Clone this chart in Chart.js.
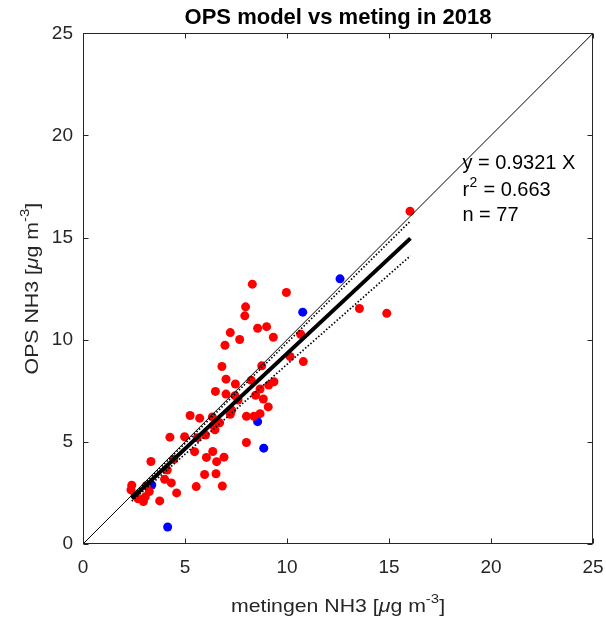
<!DOCTYPE html>
<html>
<head>
<meta charset="utf-8">
<script src="https://cdn.jsdelivr.net/npm/chart.js@4.4.1/dist/chart.umd.min.js"></script>
<style>
  html, body { margin: 0; padding: 0; background: #ffffff; }
  canvas { display: block; }
</style>
</head>
<body>
<canvas id="opsChart" width="606" height="617"></canvas>
<script>
const redX = [8.30, 7.97, 7.93, 8.56, 9.00, 7.22, 7.68, 9.33, 6.96, 6.81,
              8.76, 7.01, 8.25, 7.47, 6.49, 7.01, 7.45, 9.10, 9.36, 8.46,
              8.68, 8.84, 9.08, 7.29, 7.22, 5.25, 5.72, 6.34, 8.01, 8.38,
              8.68, 6.70, 6.41, 6.01, 6.47, 4.26, 4.98, 8.01, 5.47, 6.36,
              6.05, 6.55, 6.91, 3.33, 4.13, 4.00, 4.33, 5.96, 6.52, 5.55,
              6.83, 2.39, 2.35, 3.25, 2.70, 2.96, 3.05, 3.76, 4.59, 9.97,
              13.55, 14.89, 10.67, 10.15, 10.80, 16.03, 2.55, 3.10, 4.45, 5.60,
              7.60];
const redY = [12.72, 11.61, 11.17, 10.56, 10.64, 10.35, 10.01, 10.12, 9.73, 8.69,
              8.72, 8.07, 8.01, 7.83, 7.47, 7.34, 7.26, 7.78, 7.94, 7.28,
              7.59, 7.10, 6.71, 6.55, 6.35, 6.29, 6.16, 6.22, 6.25, 6.25,
              6.38, 5.93, 5.80, 5.33, 5.59, 5.23, 5.25, 4.97, 4.52, 4.53,
              4.24, 4.03, 4.25, 4.04, 3.62, 3.17, 2.99, 3.40, 3.44, 2.81,
              2.84, 2.88, 2.65, 2.57, 2.21, 2.08, 2.31, 2.11, 2.50, 12.31,
              11.53, 11.29, 10.27, 9.18, 8.93, 16.29, 2.40, 2.85, 4.15, 5.20,
              7.05];
const blueX = [8.56, 8.86, 3.37, 4.15, 12.60, 10.77];
const blueY = [5.99, 4.69, 2.89, 0.83, 12.98, 11.35];

const axisRange = [0, 25];
const tickValues = [0, 5, 10, 15, 20, 25];

const fitSlope = 0.9321;
const fitR2 = 0.663;
const fitN = 77;
const fitXRange = [2.39, 16.05];
const ciHalfWidth = 0.053;

const xLabelParts = [['metingen NH3 [', ''], ['μ', 'i'], ['g m', ''], ['-3', 's'], [']', '']];
const yLabelParts = [['OPS NH3 [', ''], ['μ', 'i'], ['g m', ''], ['-3', 's'], [']', '']];

const toPoints = (xs, ys) => xs.map((v, i) => ({ x: v, y: ys[i] }));
const slopeLine = (k, xs) => xs.map(v => ({ x: v, y: k * v }));

const axisColor = '#262626';
const fontFamily = '"Liberation Sans", Arial, Helvetica, sans-serif';

// text with italic / superscript pieces, centred on (cx, baseline cy)
function drawRichLabel(ctx, parts, size, cx, cy, rotated, stretch) {
    const fontFor = kind => (kind === 'i' ? 'italic ' : '') +
        (kind === 's' ? Math.round(size * 0.72) : size) + 'px ' + fontFamily;
    let total = 0;
    parts.forEach(([t, k]) => { ctx.font = fontFor(k); total += ctx.measureText(t).width; });
    ctx.save();
    ctx.translate(cx, cy);
    if (rotated) ctx.rotate(-Math.PI / 2);
    ctx.scale(stretch, 1);
    ctx.fillStyle = axisColor;
    ctx.textAlign = 'left';
    ctx.textBaseline = 'alphabetic';
    let x = -total / 2;
    parts.forEach(([t, k]) => {
        ctx.font = fontFor(k);
        ctx.fillText(t, x, k === 's' ? -size * 0.45 : 0);
        x += ctx.measureText(t).width;
    });
    ctx.restore();
}

// MATLAB-like box with inward ticks on all sides, axis labels and fit text
const boxPlugin = {
    id: 'matlabBox',
    afterDatasetsDraw(chart) {
        const { ctx, chartArea: a, scales } = chart;
        const left = Math.round(a.left) + 0.5, right = Math.round(a.right) - 0.5;
        const top = Math.round(a.top) + 0.5, bottom = Math.round(a.bottom) - 0.5;
        ctx.save();
        ctx.strokeStyle = axisColor;
        ctx.lineWidth = 1;
        ctx.strokeRect(left, top, right - left, bottom - top);
        ctx.beginPath();
        tickValues.forEach(v => {
            const px = Math.round(scales.x.getPixelForValue(v)) + 0.5;
            ctx.moveTo(px, bottom); ctx.lineTo(px, bottom - 5);
            ctx.moveTo(px, top); ctx.lineTo(px, top + 5);
            const py = Math.round(scales.y.getPixelForValue(v)) + 0.5;
            ctx.moveTo(left, py); ctx.lineTo(left + 5, py);
            ctx.moveTo(right, py); ctx.lineTo(right - 5, py);
        });
        ctx.stroke();

        // fit statistics
        const tx = scales.x.getPixelForValue(18.6);
        const ty = scales.y.getPixelForValue(18.62);
        ctx.fillStyle = '#000000';
        ctx.textBaseline = 'middle';
        ctx.textAlign = 'left';
        ctx.font = '20px ' + fontFamily;
        ctx.fillText('y = ' + fitSlope.toFixed(4) + ' X', tx, ty);
        ctx.fillText('r', tx, ty + 26.5);
        const rw = ctx.measureText('r').width;
        ctx.font = '14px ' + fontFamily;
        ctx.fillText('2', tx + rw + 0.5, ty + 19.5);
        const sw = ctx.measureText('2').width;
        ctx.font = '20px ' + fontFamily;
        ctx.fillText(' = ' + fitR2.toFixed(3), tx + rw + sw + 1, ty + 26.5);
        ctx.fillText('n = ' + fitN, tx, ty + 52);
        ctx.restore();

        // axis labels
        const midX = (a.left + a.right) / 2;
        const midY = (a.top + a.bottom) / 2;
        drawRichLabel(ctx, xLabelParts, 18.5, midX, 611.5, false, 1.15);
        drawRichLabel(ctx, yLabelParts, 18.5, 37.5, midY, true, 1.15);
    }
};

const ctx = document.getElementById('opsChart').getContext('2d');
new Chart(ctx, {
    type: 'scatter',
    data: {
        datasets: [
            {
                label: 'meetpunten',
                data: toPoints(redX, redY),
                backgroundColor: 'rgb(255,0,0)',
                borderWidth: 0,
                pointRadius: 4.5,
                order: 3
            },
            {
                label: 'meetpunten (blauw)',
                data: toPoints(blueX, blueY),
                backgroundColor: 'rgb(0,0,255)',
                borderWidth: 0,
                pointRadius: 4.5,
                order: 3
            },
            {
                label: '1:1',
                data: slopeLine(1, axisRange),
                showLine: true,
                borderColor: '#000000',
                borderWidth: 1,
                pointRadius: 0,
                order: 1
            },
            {
                label: 'fit',
                data: slopeLine(fitSlope, fitXRange),
                showLine: true,
                borderColor: '#000000',
                borderWidth: 4,
                pointRadius: 0,
                order: 1
            },
            {
                label: 'fit boven',
                data: slopeLine(fitSlope + ciHalfWidth, fitXRange),
                showLine: true,
                borderColor: '#000000',
                borderWidth: 1.7,
                borderDash: [1.5, 2],
                pointRadius: 0,
                order: 1
            },
            {
                label: 'fit onder',
                data: slopeLine(fitSlope - ciHalfWidth, fitXRange),
                showLine: true,
                borderColor: '#000000',
                borderWidth: 1.7,
                borderDash: [1.5, 2],
                pointRadius: 0,
                order: 1
            }
        ]
    },
    options: {
        responsive: false,
        animation: false,
        layout: { padding: { left: 0, right: 13, top: 0, bottom: 0 } },
        plugins: {
            legend: { display: false },
            tooltip: { enabled: false },
            title: {
                display: true,
                fullSize: false,
                text: 'OPS model vs meting in 2018',
                color: '#000000',
                font: { family: fontFamily, size: 22, weight: 'bold', lineHeight: 1.15 },
                padding: { top: 5, bottom: 3 }
            }
        },
        scales: {
            x: {
                type: 'linear',
                min: axisRange[0],
                max: axisRange[1],
                grid: { display: false, drawTicks: false },
                border: { display: false },
                ticks: {
                    stepSize: 5,
                    color: axisColor,
                    padding: 12,
                    font: { family: fontFamily, size: 19 }
                },
                afterFit: s => { s.height = 73; s.paddingLeft = 0; s.paddingRight = 0; }
            },
            y: {
                type: 'linear',
                min: axisRange[0],
                max: axisRange[1],
                grid: { display: false, drawTicks: false },
                border: { display: false },
                ticks: {
                    stepSize: 5,
                    color: axisColor,
                    padding: 10,
                    font: { family: fontFamily, size: 19 }
                },
                afterFit: s => { s.width = 83; s.paddingTop = 0; s.paddingBottom = 0; }
            }
        }
    },
    plugins: [boxPlugin]
});
</script>
</body>
</html>
